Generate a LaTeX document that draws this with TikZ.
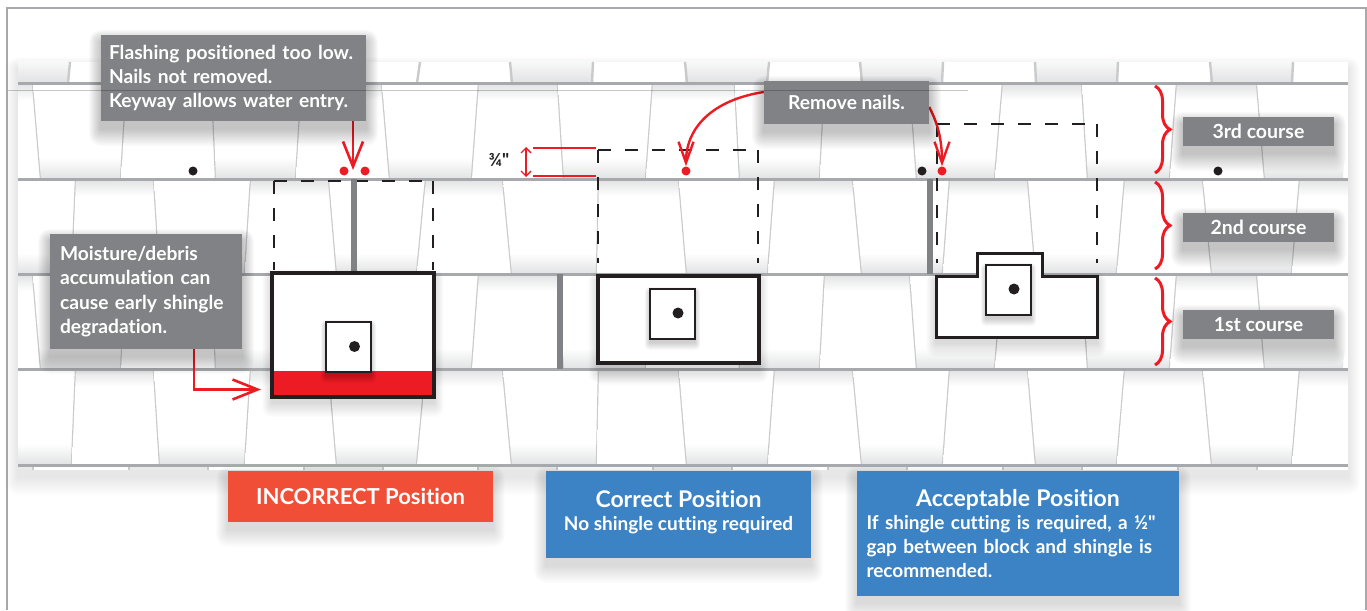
\documentclass[tikz,border=0pt]{standalone}
\usepackage{fontspec}
\setmainfont{Lato}[Ligatures={TeXOff,NoCommon}]
\usetikzlibrary{arrows.meta,decorations.pathreplacing}
\pgfdeclarelayer{front}
\pgfsetlayers{main,front}
\definecolor{slate}{HTML}{808285}
\definecolor{framegray}{HTML}{A7A9AC}
\definecolor{jointgray}{HTML}{C9CACC}
\definecolor{shinglegray}{HTML}{E1E2E3}
\definecolor{flagred}{HTML}{ED1C24}
\definecolor{wrongred}{HTML}{F04E37}
\definecolor{okblue}{HTML}{3B83C4}
\definecolor{inkblack}{HTML}{231F20}
\pgfdeclareverticalshading{fadetop}{100bp}{color(0bp)=(white); color(50bp)=(white); color(66bp)=(white); color(75bp)=(shinglegray); color(100bp)=(shinglegray)}
\pgfdeclareverticalshading{fadebottom}{100bp}{color(0bp)=(shinglegray); color(25bp)=(shinglegray); color(36bp)=(white); color(50bp)=(white); color(100bp)=(white)}
\def\rowa{33/41,127/121,212/216,302/296,382/390,479/472,558/564,653/646,735/740,825/820,910/917,1003/995,1082/1088,1177/1170,1257/1265,1348/1343}
\def\rowb{76/72,154/160,251/245,329/337,426/417,503/512,599/597,679/687,775/768,853/862,950/943,1028/1036,1125/1117,1203/1212,1300/1292,1348/1348}
\newcommand{\shinglerow}[4]{
  \foreach \ta/\ba [count=\i,remember=\ta as \tp (initially 18),remember=\ba as \bp (initially 18)] in #4 {
    \pgfmathtruncatemacro{\flip}{mod(\i+#3,2)}
    \ifnum\flip=0
      \shade[shading=fadetop] (\tp,#1) -- (\ta,#1) -- (\ba,#2) -- (\bp,#2) -- cycle;
    \else
      \shade[shading=fadebottom] (\tp,#1) -- (\ta,#1) -- (\ba,#2) -- (\bp,#2) -- cycle;
    \fi
    \ifnum\ta<1348 \draw[jointgray,line width=2.4pt] (\ta,#1) -- (\ba,#2); \fi
  }
}
% stacked fills: corners, opacity of one layer, reach
\newcommand{\softshade}[6]{
  \foreach \g in {1,...,12}
    \fill[black,opacity=#5,rounded corners=\g*#6] ({#1-\g*#6},{#2+7*#6-\g*#6}) rectangle ({#3+\g*#6},{#4+7*#6+1.5*\g*#6});
}
\begin{document}
\begin{tikzpicture}[x=1pt,y=-1pt]
        \tikzstyle{note}=[fill=slate,text=white,inner sep=0pt,font=\fontsize{19.2}{24.3}\selectfont\bfseries]
        \tikzstyle{course}=[note,minimum width=151pt,minimum height=29pt,font=\fontsize{19.5}{22}\selectfont\bfseries]
        \tikzstyle{verdict}=[text=white,inner sep=0pt,font=\fontsize{19}{24}\selectfont\bfseries]
        \tikzstyle{block}=[draw=inkblack,fill=white,line width=3.6pt,inner sep=0pt]
        \tikzstyle{flashing}=[draw=inkblack,fill=white,line width=2.3pt,inner sep=0pt]
        \tikzstyle{outline}=[draw=inkblack,line width=1.6pt,dash pattern=on 13pt off 14pt]
        \tikzstyle{slot}=[draw=slate,line width=6pt]
        \tikzstyle{nail}=[circle,inner sep=0pt,minimum size=9pt]
        \tikzstyle{edge}=[draw=flagred,line width=2.6pt,-{Straight Barb[length=25pt,width=20pt,line width=2.6pt]}]
        \tikzstyle{curvededge}=[draw=flagred,line width=2.4pt,-{Straight Barb[length=21pt,width=15pt,line width=2.4pt]}]
        \tikzstyle{curlybrace}=[draw=flagred,line width=3pt,decorate,decoration={brace,amplitude=15pt,aspect=0.5}]
        \useasboundingbox (0,0) rectangle (1367,610);
        \draw[framegray,line width=2pt] (7,610) -- (7,8) -- (1366,8) -- (1366,610);
        % shingles
        \softshade{18}{62}{1348}{470}{0.008}{1}
        \node [fill=white,inner sep=0pt,minimum width=1330pt,minimum height=408pt] (roof) at (683,266) {};
        \foreach \a/\b in {18/68,510/592,685/767,860/942,1035/1117,1210/1292}
          \shade[top color=shinglegray!25,bottom color=shinglegray] (\a,62) rectangle (\b,83);
        \foreach \a/\b in {18/33,129/208,304/383,478/557,653/732,828/907,1003/1082,1178/1257}
          \fill[shinglegray!75] (\a,465) rectangle (\b,470);
        \shinglerow{83}{179}{1}{\rowa}
        \shinglerow{179}{274}{0}{\rowb}
        \shinglerow{274}{369}{1}{\rowa}
        \shinglerow{369}{465}{0}{\rowb}
        \foreach \a/\b in {70/68,420/417,510/512,593/592,685/687,769/767,860/862,943/942,1035/1036,1118/1117,1210/1212,1293/1292}
          \draw[jointgray,line width=2.4pt] (\a,62) -- (\b,83);
        \foreach \a in {33,129,208,304,383,478,557,653,732,828,907,1003,1082,1178,1257}
          \draw[jointgray,line width=2.4pt] (\a,465) -- (\a,470);
        \foreach \y in {83,179,274,369,465}
          \draw[framegray,line width=3pt] (18,\y) -- (1348,\y);
        % dashed block positions and gaps
        \foreach \xl/\xr/\yt/\yb in {274/433/181/270,598/758/150/263,937/1097/124/263}
          \draw[outline] (\xl,\yt) -- (\xl,\yb) (\xl,\yt) -- (\xr,\yt) (\xr,\yt) -- (\xr,\yb);
        \draw[slot] (354,179) -- (354,273);
        \draw[slot] (560,274) -- (560,369);
        \draw[slot] (930,179) -- (930,274);
        % blocks
        \softshade{272}{273}{434}{397}{0.012}{0.8}
        \softshade{598}{276}{759}{363}{0.012}{0.8}
        \softshade{936}{276}{1097}{337}{0.012}{0.8}
        \node [block,minimum width=162pt,minimum height=124pt] (wrongblock) at (353,335) {};
        \fill[flagred] (274,371) rectangle (432,395);
        \draw[inkblack,line width=3.6pt] (272,273) rectangle (434,397);
        \softshade{326}{322}{371}{372}{0.016}{0.45}
        \node [flashing,minimum width=45pt,minimum height=50pt] (wrongflash) at (348.5,347) {};
        \node [nail,fill=inkblack,minimum size=11pt] (wrongnail) at (354.5,346.5) {};
        \node [block,minimum width=161pt,minimum height=87pt] (rightblock) at (678.5,319.5) {};
        \draw[inkblack,line width=2pt] (635,274.5) -- (710,274.5);
        \softshade{650}{289}{695}{339}{0.016}{0.45}
        \node [flashing,minimum width=45pt,minimum height=50pt] (rightflash) at (672.5,314) {};
        \node [nail,fill=inkblack,minimum size=11pt] (rightnail) at (678,313) {};
        \draw[inkblack,fill=white,line width=3pt] (936,276) -- (977,276) -- (977,253) -- (1042,253) -- (1042,276) -- (1097,276) -- (1097,337) -- (936,337) -- cycle;
        \softshade{986}{265}{1031}{315}{0.016}{0.45}
        \node [flashing,minimum width=45pt,minimum height=50pt] (okflash) at (1008.5,290) {};
        \node [nail,fill=inkblack,minimum size=11pt] (oknail) at (1014,289) {};
        % nails
        \node [nail,fill=inkblack] (n1) at (193,171) {};
        \node [nail,fill=flagred] (n2) at (344,171) {};
        \node [nail,fill=flagred] (n3) at (365,171) {};
        \node [nail,fill=flagred] (n4) at (686,171) {};
        \node [nail,fill=inkblack] (n5) at (922,171) {};
        \node [nail,fill=flagred] (n6) at (942,171) {};
        \node [nail,fill=inkblack] (n7) at (1218,171) {};
        \begin{pgfonlayer}{front}
        \foreach \xa/\ya/\xb/\yb in {101/35/366/121,50/234/242/349,764/81/929/124,1183/117/1334/146,1183/213/1334/242,1183/310/1334/339} {
          \softshade{\xa}{\ya}{\xb}{\yb}{0.018}{1}
        }
        \foreach \xa/\ya/\xb/\yb in {228/471/493/522,546/471/811/558,857/471/1179/596} {
          \softshade{\xa}{\ya}{\xb}{\yb}{0.011}{1}
        }
        % notes
        \node [note,minimum width=265pt,minimum height=86pt,text width=249pt,align=left] (toolow) at (233.5,78) {Flashing positioned too low.\\Nails not removed.\\Keyway allows water entry.};
        \node [note,minimum width=192pt,minimum height=115pt,text width=172pt,align=left] (moisture) at (146,291.5) {Moisture/debris\\accumulation can\\cause early shingle\\degradation.};
        \node [note,minimum width=165pt,minimum height=43pt] (removenails) at (846.5,102.5) {Remove nails.};
        \node [course] (third) at (1258.5,131.5) {3rd course};
        \node [course] (second) at (1258.5,227.5) {2nd course};
        \node [course] (first) at (1258.5,324.5) {1st course};
        % verdicts
        \node [verdict,fill=wrongred,minimum width=265pt,minimum height=51pt] (incorrect) at (360.5,496.5) {\fontsize{22}{24}\selectfont INCORRECT Position};
        \node [verdict,fill=okblue,minimum width=265pt,minimum height=87pt,align=center] (correct) at (678.5,514.5) {{\fontsize{23}{24}\selectfont Correct Position}\\[-1pt]No shingle cutting required\\[-15pt]~};
        \node [verdict,fill=okblue,minimum width=322pt,minimum height=125pt,text width=303pt,align=left] (acceptable) at (1018,533.5) {\makebox[\linewidth]{\fontsize{23}{24}\selectfont Acceptable Position}\\[-1pt]If shingle cutting is required, a ½"\\gap between block and shingle is\\recommended.};
        \draw[black,opacity=0.22,line width=1pt] (8,90) -- (968,90);
        \end{pgfonlayer}
        % arrows
        \coordinate (lowtip) at (353,170);
        \coordinate (moisttip) at (261,389.5);
        \path[edge] (toolow.south -| lowtip) -- (lowtip);
        \path[edge] (194,0 |- moisture.south) |- (moisttip);
        \path[curvededge] ([yshift=10.5pt]removenails.west) .. controls (712,100) and (686,128) .. ([yshift=13pt]n4);
        \path[curvededge] ([yshift=-4.5pt]removenails.east) .. controls (937,122) and (942,138) .. ([yshift=11pt]n6);
        % three quarter mark
        \node [font=\fontsize{18}{20}\selectfont\bfseries,text=inkblack,inner sep=0pt] (gap) at (499,160) {¾"};
        \coordinate (gaptop) at (526,147);
        \coordinate (gapbot) at (526,177);
        \coordinate (tickaw) at (533,148);
        \coordinate (tickae) at (596,148);
        \coordinate (tickbw) at (533,176);
        \coordinate (tickbe) at (596,176);
        \draw[flagred,line width=1.4pt,{Straight Barb[length=5pt,width=10pt]}-{Straight Barb[length=5pt,width=10pt]}] (gaptop) -- (gapbot);
        \draw[flagred,line width=2.8pt] (tickaw) -- (tickae);
        \draw[flagred,line width=2.8pt] (tickbw) -- (tickbe);
        % course braces
        \draw[curlybrace] (1155,86) -- (1155,173);
        \draw[curlybrace] (1155,182) -- (1155,269);
        \draw[curlybrace] (1155,278) -- (1155,365);
\end{tikzpicture}
\end{document}
